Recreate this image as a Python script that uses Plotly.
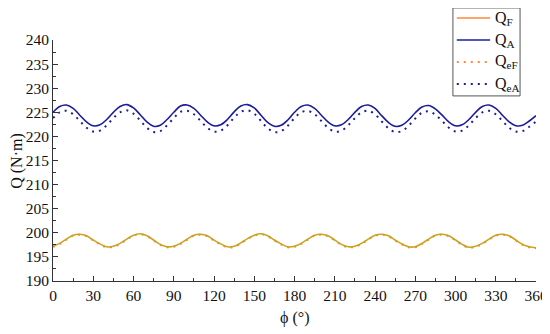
import plotly.graph_objects as go

phi = list(range(0, 361, 5))

Q_A = [225.0, 226.2, 226.5, 225.8, 224.4, 223.0, 222.2, 222.4, 223.5,
       225.0, 226.2, 226.6, 225.9, 224.5, 223.0, 222.1, 222.3, 223.5,
       225.0, 226.3, 226.5, 225.8, 224.4, 223.0, 222.2, 222.4, 223.5,
       225.1, 226.3, 226.6, 225.9, 224.4, 222.9, 222.1, 222.3, 223.4,
       225.0, 226.2, 226.5, 225.8, 224.4, 223.0, 222.2, 222.4, 223.5,
       225.0, 226.2, 226.5, 225.8, 224.3, 222.9, 222.1, 222.3, 223.4,
       224.9, 226.1, 226.4, 225.7, 224.4, 223.0, 222.2, 222.4, 223.5,
       225.0, 226.2, 226.5, 225.8, 224.4, 223.0, 222.2, 222.3, 223.2,
       224.3]

Q_eA = [223.8, 225.0, 225.3, 224.6, 223.2, 221.8, 221.0, 221.2, 222.3,
        223.8, 225.0, 225.4, 224.7, 223.3, 221.8, 220.9, 221.1, 222.3,
        223.8, 225.1, 225.3, 224.6, 223.2, 221.8, 221.0, 221.2, 222.3,
        223.9, 225.1, 225.4, 224.7, 223.2, 221.7, 220.9, 221.1, 222.2,
        223.8, 225.0, 225.3, 224.6, 223.2, 221.8, 221.0, 221.2, 222.3,
        223.8, 225.0, 225.3, 224.6, 223.1, 221.7, 220.9, 221.1, 222.2,
        223.7, 224.9, 225.2, 224.5, 223.2, 221.8, 221.0, 221.2, 222.3,
        223.8, 225.0, 225.3, 224.6, 223.2, 221.8, 221.0, 221.1, 222.0,
        223.1]

Q_F = [197.2, 197.8, 198.7, 199.5, 199.7, 199.4, 198.5, 197.7, 197.1,
       197.2, 197.8, 198.7, 199.5, 199.8, 199.4, 198.5, 197.6, 197.1,
       197.2, 197.8, 198.7, 199.5, 199.7, 199.4, 198.5, 197.7, 197.1,
       197.2, 197.9, 198.8, 199.5, 199.8, 199.4, 198.5, 197.7, 197.1,
       197.2, 197.8, 198.7, 199.5, 199.7, 199.4, 198.5, 197.6, 197.1,
       197.2, 197.8, 198.7, 199.5, 199.7, 199.4, 198.5, 197.7, 197.1,
       197.1, 197.8, 198.7, 199.5, 199.7, 199.4, 198.5, 197.6, 197.0,
       197.2, 197.8, 198.7, 199.5, 199.7, 199.4, 198.5, 197.6, 197.1,
       196.9]

Q_eF = [197.1, 197.7, 198.6, 199.4, 199.6, 199.3, 198.4, 197.6, 197.0,
        197.1, 197.7, 198.6, 199.4, 199.7, 199.3, 198.4, 197.5, 197.0,
        197.1, 197.7, 198.6, 199.4, 199.6, 199.3, 198.4, 197.6, 197.0,
        197.1, 197.8, 198.7, 199.4, 199.7, 199.3, 198.4, 197.6, 197.0,
        197.1, 197.7, 198.6, 199.4, 199.6, 199.3, 198.4, 197.5, 197.0,
        197.1, 197.7, 198.6, 199.4, 199.6, 199.3, 198.4, 197.6, 197.0,
        197.0, 197.7, 198.6, 199.4, 199.6, 199.3, 198.4, 197.5, 196.9,
        197.1, 197.7, 198.6, 199.4, 199.6, 199.3, 198.4, 197.5, 197.0,
        196.8]

series_names = ["Q<sub>F</sub>", "Q<sub>A</sub>", "Q<sub>eF</sub>", "Q<sub>eA</sub>"]

x_ticks = list(range(0, 361, 30))
y_ticks = list(range(190, 241, 5))

BLUE = "#1c1c9a"
GOLD = "#cfa023"
ORANGE = "#ff8a3a"
DOT = "2px,5px"
FONT = "Liberation Serif"

series = [
    (Q_F, GOLD, ORANGE, 1.6, "solid"),
    (Q_A, BLUE, BLUE, 1.6, "solid"),
    (Q_eF, GOLD, ORANGE, 2, DOT),
    (Q_eA, BLUE, BLUE, 2, DOT),
]

fig = go.Figure()
for name, (vals, col, legcol, w, dash) in zip(series_names, series):
    fig.add_trace(go.Scatter(x=phi, y=vals, mode="lines", name=name, showlegend=False,
                             line=dict(color=col, width=w, dash=dash, shape="spline")))

axis_common = dict(
    showline=True, linecolor="#333333", linewidth=1, mirror=False,
    ticks="inside", ticklen=5, tickcolor="#333333", tickwidth=1,
    showgrid=False, zeroline=False, automargin=False,
    tickfont=dict(family=FONT, size=15.5, color="#111111"),
)

fig.update_xaxes(range=[0, 360], tickmode="array", tickvals=x_ticks, ticktext=[str(v) for v in x_ticks],
                 minor=dict(ticks="inside", ticklen=3, dtick=15, tick0=0, tickcolor="#333333", showgrid=False),
                 **axis_common)
fig.update_yaxes(range=[190, 240], tickmode="array", tickvals=y_ticks, ticktext=[str(v) for v in y_ticks],
                 minor=dict(ticks="inside", ticklen=3, dtick=2.5, tick0=190, tickcolor="#333333", showgrid=False),
                 **axis_common)

fig.add_annotation(text="Q (N·m)", xref="paper", yref="paper", x=-0.076, y=0.5,
                   xanchor="center", yanchor="middle", textangle=-90, showarrow=False,
                   font=dict(family=FONT, size=16, color="#111111"))
fig.add_annotation(text="ϕ (°)", xref="paper", yref="paper", x=0.5, y=-0.154,
                   xanchor="center", yanchor="middle", showarrow=False,
                   font=dict(family=FONT, size=16, color="#111111"))

# legend box drawn by hand (so it does not push the plot margins)
fig.add_shape(type="rect", xref="paper", yref="paper", x0=0.828, x1=0.967, y0=0.768, y1=1.133,
              line=dict(color="#555555", width=1), fillcolor="white", layer="above")
row_y = [1.091, 1.000, 0.909, 0.817]
for name, (vals, col, legcol, w, dash), yy in zip(series_names, series, row_y):
    fig.add_shape(type="line", xref="paper", yref="paper", x0=0.836, x1=0.905, y0=yy, y1=yy,
                  line=dict(color=legcol, width=w, dash=dash), layer="above")
    fig.add_annotation(text=name, xref="paper", yref="paper", x=0.911, y=yy,
                       xanchor="left", yanchor="middle", showarrow=False,
                       font=dict(family=FONT, size=16, color="#111111"))

fig.update_layout(
    width=542, height=326,
    margin=dict(l=45, r=14, t=32, b=53),
    paper_bgcolor="white", plot_bgcolor="white",
    font=dict(family=FONT, size=15, color="#111111"),
    showlegend=False,
)

fig.write_html("out.html")
